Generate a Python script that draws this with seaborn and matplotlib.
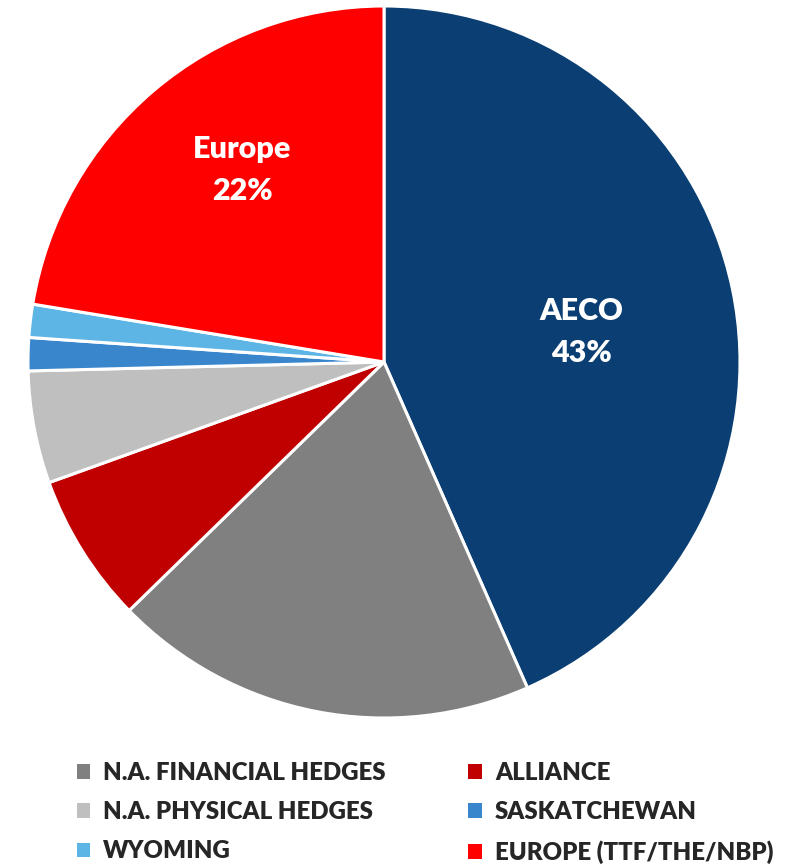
import numpy as np
import matplotlib.pyplot as plt
import seaborn as sns
from matplotlib.patches import Patch

# slice data, clockwise from 12 o'clock
segments = ["AECO", "N.A. FINANCIAL HEDGES", "ALLIANCE", "N.A. PHYSICAL HEDGES",
            "SASKATCHEWAN", "WYOMING", "EUROPE (TTF/THE/NBP)"]
shares = [43.4, 19.3, 6.8, 5.1, 1.5, 1.5, 22.4]
colors = ["#0B3F73", "#808080", "#C00000", "#BFBFBF", "#3A86CC", "#5DB5E5", "#FF0000"]

# in-slice labels: text, radius, angular nudge (deg) from the slice middle
inner_labels = {"AECO": ("AECO\n43%", 0.56, -3.2),
                "EUROPE (TTF/THE/NBP)": ("Europe\n22%", 0.67, -3.9)}

# legend layout (row-wise reading order)
legend_rows = [["N.A. FINANCIAL HEDGES", "ALLIANCE"],
               ["N.A. PHYSICAL HEDGES", "SASKATCHEWAN"],
               ["WYOMING", "EUROPE (TTF/THE/NBP)"]]

sns.set_theme(style="white")
plt.rcParams["font.family"] = ["Lato", "DejaVu Sans"]

fig = plt.figure(figsize=(8.08, 8.65), dpi=100)
ax = fig.add_axes([28 / 808, 1 - 718 / 865, 712 / 808, 712 / 865])

wedges, _ = ax.pie(shares, colors=colors, startangle=90, counterclock=False,
                   wedgeprops=dict(edgecolor="white", linewidth=2.2))
ax.set_xlim(-1, 1)
ax.set_ylim(-1, 1)
ax.set_aspect("equal")
ax.axis("off")

for w, name in zip(wedges, segments):
    if name in inner_labels:
        text, r, nudge = inner_labels[name]
        mid = np.deg2rad((w.theta1 + w.theta2) / 2 + nudge)
        ax.text(r * np.cos(mid), r * np.sin(mid), text,
                ha="center", va="center", color="white", fontsize=22,
                fontweight="heavy", linespacing=1.6)

color_of = dict(zip(segments, colors))
# matplotlib fills legend columns first, so reorder
order = [row[0] for row in legend_rows] + [row[1] for row in legend_rows]
handles = [Patch(facecolor=color_of[n], edgecolor="none") for n in order]
fig.legend(handles, order, loc="lower left", bbox_to_anchor=(0.068, -0.024),
           ncol=2, frameon=False, handlelength=0.55, handleheight=0.55,
           handletextpad=0.55, columnspacing=3.45, labelspacing=0.72,
           prop=dict(size=17.3, weight="heavy"))

fig.savefig("out.png", dpi=100)
